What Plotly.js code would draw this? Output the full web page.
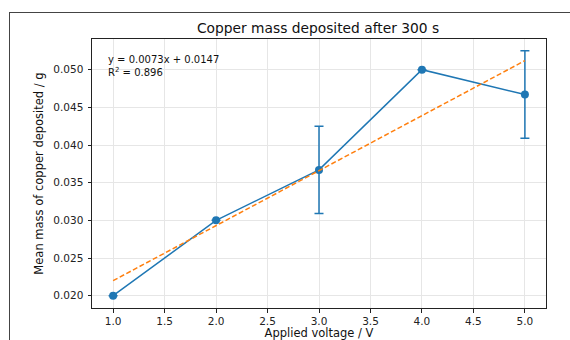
<!DOCTYPE html>
<html><head><meta charset="utf-8">
<script src="https://cdn.plot.ly/plotly-3.0.1.min.js"></script>
<style>
html,body{margin:0;padding:0;background:#fff;}
#wrap{position:relative;width:570px;height:340px;overflow:hidden;}
#chart{width:570px;height:340px;}
#frame{position:absolute;left:9px;top:12px;width:570px;height:340px;border-left:1px solid #444;border-top:1px solid #444;pointer-events:none;}
</style></head>
<body>
<div id="wrap"><div id="chart"></div><div id="frame"></div></div>
<script>
const voltage = [1.0, 2.0, 3.0, 4.0, 5.0];
const meanMass = [0.0200, 0.0300, 0.0367, 0.0500, 0.0467];
const massErr = [0, 0, 0.0058, 0, 0.0058];
const fitX = [1.0, 5.0];
const fitY = [0.0220, 0.0512];
const fitText = 'y = 0.0073x + 0.0147<br>R<sup>2</sup> = 0.896';
const xTicks = [1.0, 1.5, 2.0, 2.5, 3.0, 3.5, 4.0, 4.5, 5.0];
const yTicks = [0.020, 0.025, 0.030, 0.035, 0.040, 0.045, 0.050];

const font = 'DejaVu Sans, sans-serif';
const traces = [
  {x: voltage, y: meanMass, type: 'scatter', mode: 'lines+markers',
   line: {color: '#1f77b4', width: 1.5},
   marker: {color: '#1f77b4', size: 8},
   error_y: {type: 'data', array: massErr, visible: true, color: '#1f77b4', thickness: 1.5, width: 4.5},
   showlegend: false},
  {x: fitX, y: fitY, type: 'scatter', mode: 'lines',
   line: {color: '#ff7f0e', width: 1.5, dash: '5px,2.5px'},
   showlegend: false}
];
const axisCommon = {
  showline: true, mirror: true, linecolor: '#222', linewidth: 1,
  ticks: 'outside', ticklen: 3.5, tickcolor: '#222', tickwidth: 1,
  showgrid: true, gridcolor: '#e6e6e6', gridwidth: 1, zeroline: false,
  tickfont: {family: font, size: 10.5, color: '#222'}
};
const layout = {
  width: 570, height: 340,
  margin: {l: 92, r: 24, t: 39, b: 32},
  paper_bgcolor: '#fff', plot_bgcolor: '#fff',
  font: {family: font, color: '#222'},
  title: {text: 'Copper mass deposited after 300 s', font: {family: font, size: 13.8, color: '#111'},
          x: 0.558, xanchor: 'center', y: 0.918, yanchor: 'middle'},
  xaxis: Object.assign({}, axisCommon, {range: [0.795, 5.205], tickvals: xTicks, tickformat: '.1f',
    title: {text: 'Applied voltage / V', font: {family: font, size: 11.5, color: '#111'}, standoff: 9}}),
  yaxis: Object.assign({}, axisCommon, {range: [0.01837, 0.05407], tickvals: yTicks, tickformat: '.3f',
    ticklabelstandoff: 2,
    title: {text: 'Mean mass of copper deposited / g', font: {family: font, size: 11.5, color: '#111'}, standoff: 7}}),
  annotations: [{xref: 'paper', yref: 'paper', x: 0.03, y: 0.95, xanchor: 'left', yanchor: 'top',
    text: fitText, showarrow: false, align: 'left', font: {family: font, size: 10, color: '#111'}}]
};
Plotly.newPlot('chart', traces, layout, {displayModeBar: false, staticPlot: true});
</script>
</body></html>
